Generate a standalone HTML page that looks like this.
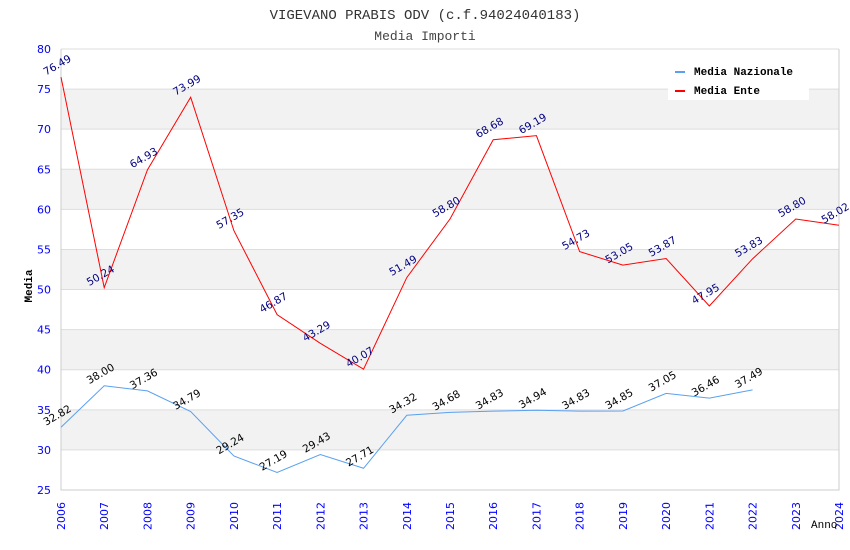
<!DOCTYPE html>
<html><head><meta charset="utf-8"><style>
body{margin:0;background:#fff}
svg{display:block;font-family:"DejaVu Sans","Liberation Sans",sans-serif}
</style></head><body>
<svg id="chart" width="850" height="550">
<text x="425" y="19" text-anchor="middle" font-family="'Liberation Mono',monospace" font-size="14" fill="#333">VIGEVANO PRABIS ODV (c.f.94024040183)</text>
<text x="425" y="40" text-anchor="middle" font-family="'Liberation Mono',monospace" font-size="13" fill="#444">Media Importi</text>
<g id="bands"></g><g id="grid"></g><g id="axes"></g><g id="series"></g>
<text x="16" y="270" transform="rotate(-90 32 270)" text-anchor="middle" font-family="'Liberation Mono',monospace" font-size="11" font-weight="bold" fill="#000">Media</text>
<text x="811" y="528" font-family="'Liberation Mono',monospace" font-size="11" fill="#000">Anno</text>
<g>
<rect x="668" y="60" width="141" height="40" fill="#fff"/>
<rect x="675" y="71" width="10" height="2" fill="#5aa0f0"/>
<text x="694" y="75" font-family="'Liberation Mono',monospace" font-size="11" font-weight="bold">Media Nazionale</text>
<rect x="675" y="90" width="10" height="2" fill="#f00"/>
<text x="694" y="94" font-family="'Liberation Mono',monospace" font-size="11" font-weight="bold">Media Ente</text>
</g>
</svg>
<script>
const years=[2006,2007,2008,2009,2010,2011,2012,2013,2014,2015,2016,2017,2018,2019,2020,2021,2022,2023,2024];
const yTicks=[25,30,35,40,45,50,55,60,65,70,75,80];
const nazionale=[32.82,38.00,37.36,34.79,29.24,27.19,29.43,27.71,34.32,34.68,34.83,34.94,34.83,34.85,37.05,36.46,37.49];
const ente=[76.49,50.24,64.93,73.99,57.35,46.87,43.29,40.07,51.49,58.80,68.68,69.19,54.73,53.05,53.87,47.95,53.83,58.80,58.02];
const X0=61,X1=839,Y0=490,Y1=49,YMIN=25,YMAX=80;
const xs=i=>X0+(X1-X0)*i/(years.length-1);
const ys=v=>Y0-(v-YMIN)/(YMAX-YMIN)*(Y0-Y1);
const NS="http://www.w3.org/2000/svg";
function mk(tag,attrs,parent,txt){const e=document.createElementNS(NS,tag);for(const k in attrs)e.setAttribute(k,attrs[k]);if(txt!==undefined)e.textContent=txt;document.getElementById(parent).appendChild(e);return e;}
for(let i=0;i<yTicks.length-1;i++){
  if(i%2===1){const b=mk('rect',{x:X0,y:ys(yTicks[i+1]),width:X1-X0,height:ys(yTicks[i])-ys(yTicks[i+1]),fill:'#f2f2f2'},'bands');
  
  }
}
yTicks.forEach(t=>{
  const l=mk('line',{x1:X0,x2:X1,y1:ys(t),y2:ys(t),stroke:'#ddd','stroke-width':1},'grid');
  
  
  const tx=mk('text',{x:X0-10,y:ys(t)+4,'text-anchor':'end','font-size':11,fill:'#00f'},'axes',t);
  
  
});
const ax=mk('path',{d:`M${X0},${Y1}V${Y0}H${X1}V${Y1}`,fill:'none',stroke:'#ccc'},'axes');


years.forEach((y,i)=>{
  const x=xs(i)+4;
  const t=mk('text',{x:x,y:502,transform:`rotate(-90 ${x} 502)`,'text-anchor':'end','font-size':11,fill:'#00f'},'axes',y);
  
  
});
function series(vals,color,lcolor,name){
  const d=vals.map((v,i)=>(i?'L':'M')+xs(i)+','+ys(v)).join('');
  const p=mk('path',{d:d,fill:'none',stroke:color,'stroke-width':1},'series');
  
  
  vals.forEach((v,i)=>{
    const x=xs(i)-2,y=ys(v)-9;
    const t=mk('text',{x:x,y:y,transform:`rotate(-30 ${x} ${y})`,'text-anchor':'middle','font-size':10.5,fill:lcolor},'series',v.toFixed(2));
    
    
  });
}
series(nazionale,'#5aa0f0','#000','nazionale');
series(ente,'#f00','#000080','ente');
</script>
</body></html>
